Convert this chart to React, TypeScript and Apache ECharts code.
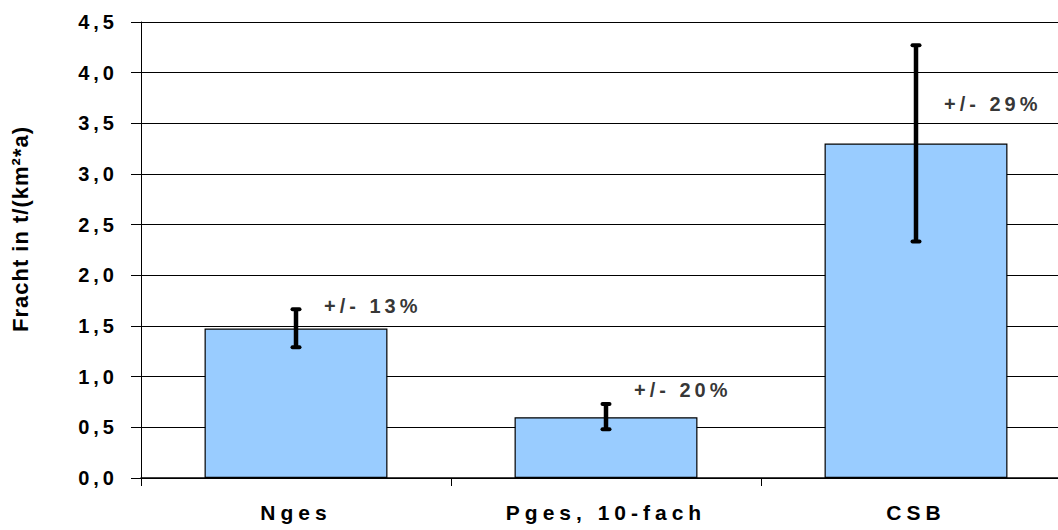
import React, { useEffect, useRef } from "react";
import * as echarts from "echarts";

const categories = ["Nges", "Pges, 10-fach", "CSB"];
const values = [1.475, 0.6, 3.3];
const errorLow = [1.29, 0.48, 2.335];
const errorHigh = [1.665, 0.73, 4.27];
const errorPct = [13, 20, 29];
const annotationY = [1.7, 0.87, 3.69];
const yTickLabels = ["0,0", "0,5", "1,0", "1,5", "2,0", "2,5", "3,0", "3,5", "4,0", "4,5"];
const yAxisTitle = "Fracht in t/(km²*a)";

const FONT = "'Liberation Sans', Arial, sans-serif";

export default function App() {
  const ref = useRef<HTMLDivElement>(null);
  useEffect(() => {
    if (!ref.current) return;
    const chart = echarts.init(ref.current, undefined, { renderer: "svg" });
    chart.setOption({
      animation: false,
      backgroundColor: "#ffffff",
      grid: { left: 141, right: -13, top: 22, bottom: 52, containLabel: false, outerBoundsMode: "none" },
      xAxis: {
        type: "category",
        data: categories,
        boundaryGap: true,
        axisLine: { lineStyle: { color: "#000", width: 1.5 } },
        axisTick: { show: true, length: 8, lineStyle: { color: "#000", width: 1 } },
        axisLabel: {
          margin: 24,
          color: "#000",
          fontFamily: FONT,
          fontWeight: "bold",
          fontSize: 21,
        },
      },
      yAxis: {
        type: "value",
        min: 0,
        max: 4.5,
        interval: 0.5,
        name: yAxisTitle,
        nameLocation: "middle",
        nameRotate: 90,
        nameGap: 110,
        nameTextStyle: {
          color: "#000",
          fontFamily: FONT,
          fontWeight: "bold",
          fontSize: 22,
          padding: [0, 0, 0, 42],
        },
        axisLine: { show: true, lineStyle: { color: "#000", width: 1 } },
        axisTick: { show: true, length: 10, lineStyle: { color: "#000", width: 1 } },
        splitLine: { show: true, lineStyle: { color: "#000", width: 1 } },
        axisLabel: {
          margin: 23,
          color: "#000",
          fontFamily: FONT,
          fontWeight: "bold",
          fontSize: 20,
          formatter: (v: number) => yTickLabels[Math.round(v / 0.5)] ?? "",
        },
      },
      series: [
        {
          type: "bar",
          data: values,
          barCategoryGap: "41%",
          itemStyle: { color: "#99CCFF", borderColor: "#000", borderWidth: 1.2 },
          z: 2,
        },
        {
          type: "custom",
          data: categories.map((_, i) => [i, errorLow[i], errorHigh[i]]),
          z: 5,
          renderItem: (params: any, api: any) => {
            const x = api.value(0);
            const lo = api.coord([x, api.value(1)]);
            const hi = api.coord([x, api.value(2)]);
            const cx = lo[0];
            const half = 3.5;
            const style = { stroke: "#000", lineWidth: 4, lineCap: "round" };
            return {
              type: "group",
              children: [
                { type: "line", shape: { x1: cx, y1: hi[1], x2: cx, y2: lo[1] }, style: { stroke: "#000", lineWidth: 4.5 } },
                { type: "line", shape: { x1: cx - half, y1: hi[1], x2: cx + half, y2: hi[1] }, style },
                { type: "line", shape: { x1: cx - half, y1: lo[1], x2: cx + half, y2: lo[1] }, style },
              ],
            };
          },
        },
        {
          type: "scatter",
          data: categories.map((_, i) => [i, annotationY[i]]),
          symbolSize: 0,
          z: 6,
          label: {
            show: true,
            position: "right",
            distance: 28,
            color: "#000",
            fontFamily: FONT,
            fontWeight: "bold",
            fontSize: 20,
            formatter: (p: any) => `+/- ${errorPct[p.dataIndex]}%`,
          },
        },
      ],
    });
    return () => chart.dispose();
  }, []);
  return (
    <>
      <style>{`
        #chartbox text { letter-spacing: 4px; }
        #chartbox text[style*="21px"] { letter-spacing: 5px; }
        #chartbox text[style*="22px"] { letter-spacing: 1px; }
      `}</style>
      <div
        id="chartbox"
        ref={ref}
        style={{ position: "absolute", left: 0, top: 0, width: 1058, height: 530, overflow: "hidden" }}
      />
    </>
  );
}
